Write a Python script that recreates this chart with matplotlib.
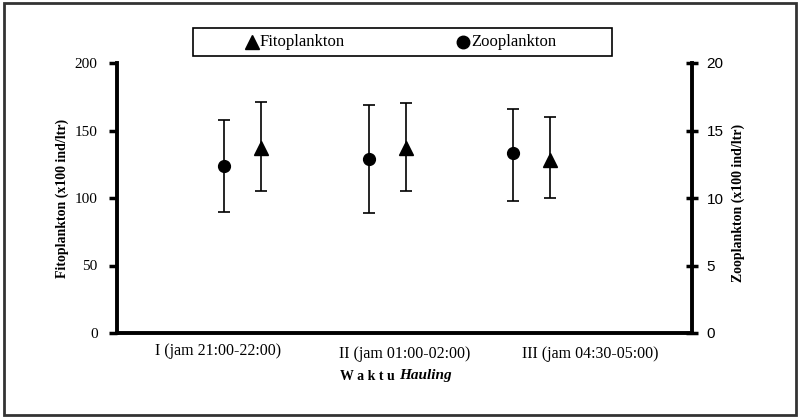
import matplotlib
matplotlib.use("Agg")
import matplotlib.pyplot as plt
from matplotlib.patches import Rectangle
from matplotlib.lines import Line2D
import numpy as np

# ---- data ----
categories = ["I (jam 21:00-22:00)", "II (jam 01:00-02:00)", "III (jam 04:30-05:00)"]
fito_mean = [137, 137, 128]
fito_low = [105, 105, 100]
fito_high = [171, 170, 160]
zoo_mean = [12.4, 12.9, 13.3]
zoo_low = [9.0, 8.9, 9.8]
zoo_high = [15.8, 16.9, 16.6]
left_ticks = [0, 50, 100, 150, 200]
right_ticks = [0, 5, 10, 15, 20]

# ---- layout ----
W, H = 804, 418
fig = plt.figure(figsize=(W / 100, H / 100), dpi=100)
serif = ["Liberation Serif", "DejaVu Serif"]
sans = ["Liberation Sans", "DejaVu Sans"]

x0, x1, y0, y1 = 117, 692, 63, 333
ax = fig.add_axes([x0 / W, 1 - y1 / H, (x1 - x0) / W, (y1 - y0) / H])
ax2 = ax.twinx()

pos = np.arange(1, len(categories) + 1)
off = 0.128
ax.set_xlim(0.127, 4.113)
ax.set_ylim(0, 200)
ax2.set_ylim(0, 20)

fm = np.array(fito_mean)
ax.errorbar(pos + off, fm, yerr=[fm - np.array(fito_low), np.array(fito_high) - fm],
            fmt="^", color="black", ms=9.5, elinewidth=1.2, capsize=4.5, capthick=1.2,
            clip_on=False, zorder=3)
zm = np.array(zoo_mean)
ax2.errorbar(pos - off, zm, yerr=[zm - np.array(zoo_low), np.array(zoo_high) - zm],
             fmt="o", color="black", ms=8.5, elinewidth=1.2, capsize=4.5, capthick=1.2,
             clip_on=False, zorder=3)

for a in (ax, ax2):
    a.spines["top"].set_visible(False)
    a.set_facecolor("none")
ax.spines["right"].set_visible(False)
ax2.spines["left"].set_visible(False)
ax2.spines["bottom"].set_visible(False)
ax.spines["left"].set_linewidth(2.8)
ax.spines["bottom"].set_linewidth(2.8)
ax2.spines["right"].set_linewidth(2.8)

ax.set_yticks(left_ticks)
ax.set_yticklabels([str(t) for t in left_ticks], fontfamily=serif, fontsize=11)
ax.tick_params(axis="y", direction="out", length=6, width=2.5, pad=8)
ax2.set_yticks(right_ticks)
ax2.set_yticklabels([str(t) for t in right_ticks], fontfamily=sans, fontsize=11)
ax2.tick_params(axis="y", direction="inout", length=9, width=2.5, pad=6)

ax.set_xticks([])
label_x = [0.827, 2.121, 3.406]
label_y = [-0.065, -0.078, -0.078]
for lx, ly, c in zip(label_x, label_y, categories):
    ax.text(lx, ly, c, transform=ax.get_xaxis_transform(), ha="center", va="center",
            fontfamily=serif, fontsize=11.5)

fig.text(367 / W, 1 - 377 / H, "W a k t u", ha="center", va="center",
         fontfamily=serif, fontsize=10, fontweight="bold")
fig.text(425 / W, 1 - 376 / H, "Hauling", ha="center", va="center",
         fontfamily=serif, fontsize=11, fontweight="bold", style="italic")

fig.text(62 / W, 1 - 198 / H, "Fitoplankton (x100 ind/ltr)", rotation=90,
         ha="center", va="center", fontfamily=serif, fontsize=10, fontweight="bold")
fig.text(738 / W, 1 - 203 / H, "Zooplankton (x100 ind/ltr)", rotation=90,
         ha="center", va="center", fontfamily=serif, fontsize=10, fontweight="bold")

# legend box
fig.patches.append(Rectangle((193 / W, 1 - 56 / H), (612 - 193) / W, 28 / H,
                             transform=fig.transFigure, fill=False,
                             edgecolor="black", linewidth=1.2))
fig.lines.append(Line2D([252 / W], [1 - 42 / H], marker="^", color="black", ms=10,
                        transform=fig.transFigure))
fig.text(260 / W, 1 - 42 / H, "Fitoplankton", ha="left", va="center",
         fontfamily=serif, fontsize=12)
fig.lines.append(Line2D([463 / W], [1 - 42 / H], marker="o", color="black", ms=9,
                        transform=fig.transFigure))
fig.text(471 / W, 1 - 42 / H, "Zooplankton", ha="left", va="center",
         fontfamily=serif, fontsize=12)

# outer frame
fig.patches.append(Rectangle((4 / W, 3 / H), (796 - 4) / W, (415 - 3) / H,
                             transform=fig.transFigure, fill=False,
                             edgecolor="#333333", linewidth=2))

fig.savefig("out.png", dpi=100)
